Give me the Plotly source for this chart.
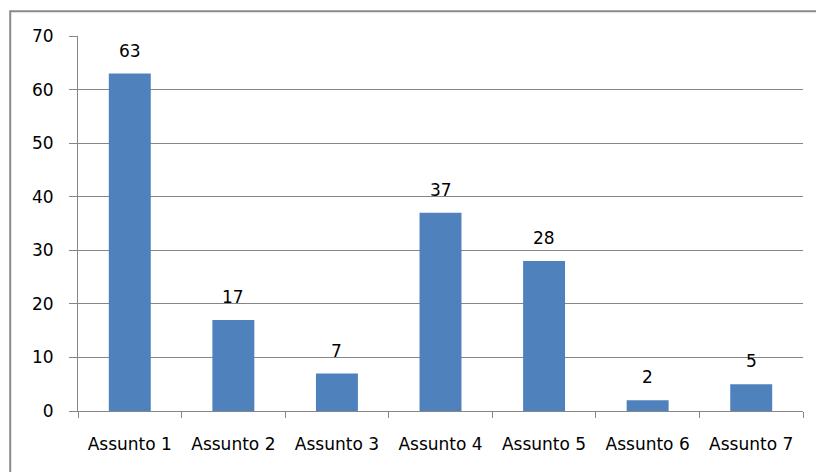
import plotly.graph_objects as go

categories = ["Assunto 1", "Assunto 2", "Assunto 3", "Assunto 4", "Assunto 5", "Assunto 6", "Assunto 7"]
values = [63, 17, 7, 37, 28, 2, 5]
y_ticks = [0, 10, 20, 30, 40, 50, 60, 70]

bar_color = "#4F81BD"
grid_color = "#868686"
font_family = "DejaVu Sans"

fig = go.Figure()
fig.add_trace(go.Bar(
    x=categories,
    y=values,
    marker=dict(color=bar_color, line=dict(width=0)),
    hoverinfo="x+y",
))

# value labels above each bar
for cat, val in zip(categories, values):
    fig.add_annotation(
        x=cat, y=val, text=str(val), showarrow=False,
        yanchor="bottom", yshift=11,
        font=dict(family=font_family, size=17, color="#000000"),
    )

# chart frame (left and top edges are visible)
fig.add_shape(type="rect", xref="paper", yref="paper",
              x0=-0.0935, x1=1.2, y0=-0.5, y1=1.066,
              line=dict(color="#8A8A8A", width=2), layer="below")

fig.update_layout(
    width=816, height=472,
    margin=dict(l=78, r=13, t=36, b=61),
    paper_bgcolor="white", plot_bgcolor="white",
    bargap=0.595,
    showlegend=False,
    font=dict(family=font_family, size=17, color="#000000"),
    xaxis=dict(
        showline=True, linecolor=grid_color, linewidth=1,
        ticks="outside", tickson="boundaries", ticklen=6, tickcolor=grid_color,
        showgrid=False, ticklabelstandoff=18,
        tickfont=dict(family=font_family, size=17, color="#000000"),
    ),
    yaxis=dict(
        range=[0, 70], tickvals=y_ticks,
        showline=True, linecolor=grid_color, linewidth=1,
        showgrid=True, gridcolor=grid_color, gridwidth=1,
        ticks="outside", ticklen=8, tickcolor=grid_color,
        ticklabelstandoff=12, zeroline=False,
        tickfont=dict(family=font_family, size=17, color="#000000"),
    ),
)

fig.write_html("out.html")
